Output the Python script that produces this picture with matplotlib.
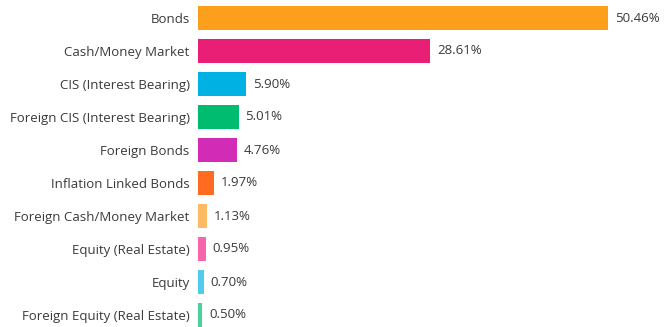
import numpy as np
import matplotlib.pyplot as plt

plt.rcParams['font.family'] = ['Open Sans', 'DejaVu Sans']

categories = ['Bonds', 'Cash/Money Market', 'CIS (Interest Bearing)',
              'Foreign CIS (Interest Bearing)', 'Foreign Bonds',
              'Inflation Linked Bonds', 'Foreign Cash/Money Market',
              'Equity (Real Estate)', 'Equity', 'Foreign Equity (Real Estate)']
weights = [50.46, 28.61, 5.90, 5.01, 4.76, 1.97, 1.13, 0.95, 0.70, 0.50]
colors = ['#FB9F1C', '#E91E75', '#00B2E3', '#00BC70', '#D22BB5',
          '#FF6B1F', '#FFBB63', '#F665A8', '#4ECBEF', '#4CD19E']

fig = plt.figure(figsize=(6.64, 3.27), dpi=100)
ax = fig.add_axes([198 / 664, 0, 466 / 664, 1])

y = np.arange(len(categories))
ax.barh(y, weights, height=0.73, color=colors)

for yi, w in zip(y, weights):
    ax.text(w + 0.85, yi, f'{w:.2f}%', va='center', ha='left',
            fontsize=9.5, color='#3a3a3a')

ax.set_xlim(0, 50.46 * 466 / 410)
ax.set_ylim((327 - 18) / 33, -18 / 33)
ax.set_yticks(y)
ax.set_yticklabels(categories, fontsize=9.5, color='#3a3a3a')
ax.tick_params(axis='y', length=0, pad=6)
ax.set_xticks([])
for s in ax.spines.values():
    s.set_visible(False)

fig.savefig('out.png', dpi=100)
